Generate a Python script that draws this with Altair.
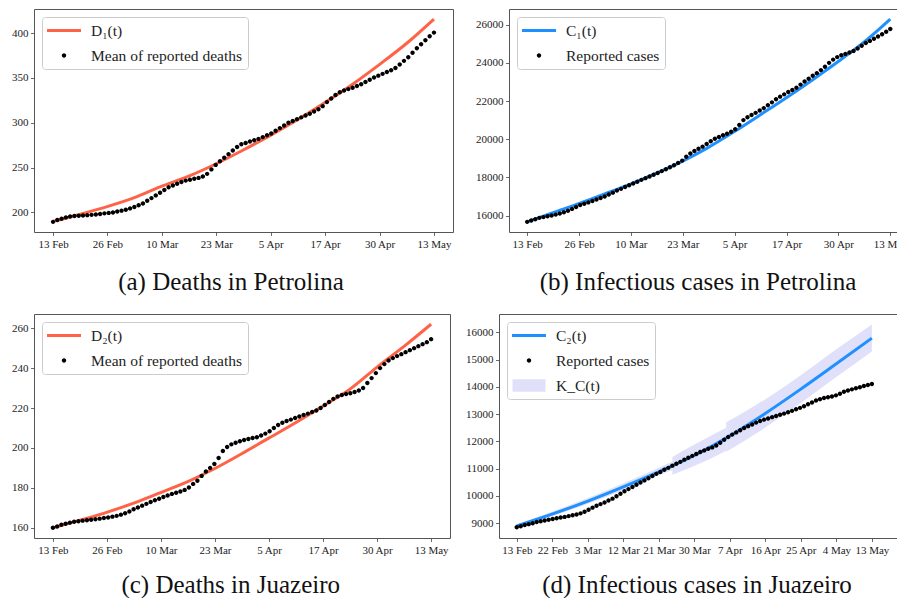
import altair as alt
import pandas as pd

days = list(range(90))

# ---------------- values ----------------
a_dots = [189.5, 191.5, 193.0, 194.5, 195.5, 196.0, 196.3, 196.6, 197.0, 197.3,
          197.7, 198.3, 199.0, 199.5, 200.0, 201.0, 202.0, 203.0, 204.5, 206.0,
          208.0, 210.0, 213.0, 216.0, 219.0, 222.0, 225.0, 228.0, 230.0, 232.0,
          234.0, 235.5, 236.5, 237.5, 238.5, 240.0, 243.0, 248.0, 253.0, 257.0,
          261.0, 265.0, 269.0, 273.0, 276.0, 277.5, 279.0, 280.5, 282.0, 284.0,
          286.0, 288.0, 291.0, 294.0, 297.0, 300.0, 302.0, 304.0, 306.0, 308.0,
          310.0, 312.5, 315.0, 318.5, 323.0, 327.0, 331.0, 334.0, 336.0, 337.5,
          339.0, 341.0, 343.0, 345.5, 348.0, 350.5, 352.5, 354.5, 356.5, 358.5,
          361.0, 365.0, 369.0, 373.0, 378.0, 383.0, 387.5, 392.0, 396.5, 400.5]
a_curve_days = [0, 6, 13, 19, 25, 32, 38, 44, 51, 57, 63, 70, 76, 83, 89]
a_curve = [190, 197.5, 207, 216.5, 228.5, 241, 254, 268.5, 286.5, 303, 321, 343, 364, 390, 415.5]

b_dots = [15670, 15740, 15810, 15880, 15920, 15960, 16000, 16050, 16110, 16170,
          16250, 16350, 16450, 16550, 16620, 16690, 16760, 16840, 16920, 17000,
          17100, 17200, 17310, 17400, 17500, 17590, 17680, 17770, 17870, 17960,
          18050, 18140, 18230, 18330, 18430, 18530, 18640, 18760, 18880, 19080,
          19250, 19380, 19500, 19610, 19750, 19890, 20020, 20120, 20210, 20290,
          20390, 20520, 20740, 21000, 21150, 21270, 21380, 21500, 21630, 21780,
          21930, 22090, 22230, 22350, 22470, 22580, 22700, 22860, 23020, 23170,
          23320, 23460, 23620, 23800, 24000, 24170, 24300, 24400, 24470, 24540,
          24620, 24750, 24900, 25040, 25150, 25260, 25380, 25500, 25630, 25770]
b_curve_days = [0, 6, 13, 19, 25, 32, 38, 44, 51, 57, 64, 70, 76, 83, 89]
b_curve = [15670, 16130, 16650, 17130, 17620, 18250, 18840, 19520, 20430, 21260,
           22240, 23120, 24030, 25160, 26290]

c_dots = [160.0, 160.7, 161.5, 162.0, 162.6, 163.0, 163.3, 163.6, 163.8, 164.0,
          164.3, 164.6, 164.9, 165.2, 165.6, 166.0, 166.6, 167.3, 168.2, 169.3,
          170.2, 171.1, 172.0, 172.9, 173.8, 174.6, 175.4, 176.2, 177.0, 177.6,
          178.2, 179.0, 180.2, 182.0, 183.6, 186.0, 188.2, 190.0, 192.0, 195.0,
          198.5, 200.5, 201.8, 202.6, 203.4, 204.0, 204.5, 205.0, 205.4, 206.2,
          207.2, 208.4, 210.0, 211.5, 212.6, 213.5, 214.2, 215.0, 215.8, 216.5,
          217.2, 218.0, 218.8, 220.0, 221.5, 223.0, 224.6, 225.8, 226.5, 227.0,
          227.4, 228.0, 228.8, 230.0, 232.5, 235.0, 237.5, 240.0, 242.0, 243.8,
          245.0, 246.0, 247.0, 248.0, 249.0, 250.0, 251.0, 252.0, 253.0, 254.5]
c_curve_days = [0, 6, 13, 19, 25, 32, 38, 44, 51, 57, 63, 70, 76, 83, 89]
c_curve = [160, 163.6, 168, 172.4, 177.4, 183.4, 189.6, 196.6, 205.2, 212.5,
           220.3, 229.6, 240, 251.5, 262]

d_dots = [8853, 8890, 8930, 8965, 9000, 9040, 9073, 9100, 9125, 9150,
          9180, 9205, 9230, 9260, 9290, 9320, 9360, 9420, 9490, 9570,
          9640, 9700, 9760, 9830, 9900, 9990, 10080, 10170, 10250, 10330,
          10410, 10490, 10570, 10650, 10730, 10810, 10880, 10960, 11030, 11110,
          11180, 11250, 11330, 11400, 11470, 11540, 11610, 11670, 11730, 11780,
          11850, 11950, 12060, 12160, 12250, 12330, 12410, 12490, 12560, 12620,
          12690, 12750, 12800, 12840, 12890, 12930, 12980, 13020, 13070, 13120,
          13180, 13230, 13290, 13360, 13430, 13500, 13550, 13590, 13620, 13650,
          13690, 13750, 13820, 13870, 13910, 13950, 13985, 14030, 14070, 14107]
d_curve_days = [0, 9, 18, 27, 36, 45, 53, 62, 71, 80, 89]
d_curve = [8900, 9340, 9820, 10350, 10910, 11520, 12170, 13000, 13900, 14840, 15790]

# K_C(t) band, three pieces
band_seg = ["s1"] * 6 + ["s2"] * 3 + ["s3"] * 5
band_days = [0, 9, 18, 27, 36, 39, 39, 45, 52.5, 52.5, 62, 71, 80, 89]
band_lo = [8845, 9260, 9720, 10230, 10780, 10950, 10780, 11130, 11660,
           11620, 12480, 13390, 14350, 15300]
band_hi = [8955, 9430, 9930, 10480, 11060, 11250, 11430, 11920, 12500,
           12700, 13520, 14410, 15370, 16290]

ticks_8 = ["13 Feb", "26 Feb", "10 Mar", "23 Mar", "5 Apr", "17 Apr", "30 Apr", "13 May"]
ticks_11 = ["13 Feb", "22 Feb", "3 Mar", "12 Mar", "21 Mar", "30 Mar", "7 Apr",
            "16 Apr", "25 Apr", "4 May", "13 May"]

# ---------------- styling ----------------
SERIF = "Liberation Serif"
RED = "#ff6347"
BLUE = "#1e90ff"
LAV = "#e0e0fa"
FRAME = "#555555"
LINE_PATH = "M-1,-0.09L1,-0.09L1,0.09L-1,0.09Z"
DOT_PATH = "M0.13,0A0.13,0.13,0,1,1,-0.13,0A0.13,0.13,0,1,1,0.13,0Z"
RECT_PATH = "M-0.97,-0.37L0.97,-0.37L0.97,0.37L-0.97,0.37Z"
SYM = 1156


def x_enc(labels, xmax):
    n = len(labels)
    pos = [i * 89 / (n - 1) for i in range(n)]
    arr = "[" + ",".join("'" + t + "'" for t in labels) + "]"
    expr = arr + "[round(datum.value * " + str(n - 1) + " / 89)]"
    return alt.X("day:Q", scale=alt.Scale(domain=[-4.45, xmax], nice=False, zero=False),
                 axis=alt.Axis(values=pos, labelExpr=expr, title=None, labelPadding=3,
                               labelOverlap=False))


def y_enc(field, ydom, yticks, ext):
    return alt.Y(field, scale=alt.Scale(domain=ydom, nice=False, zero=False),
                 axis=alt.Axis(values=yticks, format="d", title=None,
                               minExtent=ext, maxExtent=ext))


def panel(dots, dot_label, cdays, cvals, line_label, color, ydom, yticks, ext,
          width, height, xt, caption, toff, dx=0, xmax=93.45, band=None):
    X = x_enc(xt, xmax)
    Y = y_enc("v:Q", ydom, yticks, ext)
    dom = [line_label, dot_label]
    cols = [color, "black"]
    shapes = [LINE_PATH, DOT_PATH]
    layers = []
    if band is not None:
        bdf = pd.DataFrame({"day": band_days, "lo": band_lo, "hi": band_hi, "seg": band_seg})
        layers.append(alt.Chart(bdf).mark_area(color=LAV, opacity=1, interpolate="monotone").encode(
            x=X, y=y_enc("lo:Q", ydom, yticks, ext), y2="hi:Q", detail="seg:N"))
        dom.append(band)
        cols.append(LAV)
        shapes.append(RECT_PATH)
    cdf = pd.DataFrame({"day": cdays, "v": cvals})
    layers.append(alt.Chart(cdf).mark_line(color=color, strokeWidth=3, interpolate="monotone")
                  .encode(x=X, y=Y))
    ddf = pd.DataFrame({"day": days, "v": dots, "series": [dot_label] * len(days)})
    leg = alt.Legend(title=None, orient="top-left")
    layers.append(alt.Chart(ddf).mark_point(filled=True, size=SYM, opacity=1).encode(
        x=X, y=Y,
        color=alt.Color("series:N", scale=alt.Scale(domain=dom, range=cols), legend=leg),
        shape=alt.Shape("series:N", scale=alt.Scale(domain=dom, range=shapes), legend=leg)))
    return alt.layer(*layers).properties(
        width=width, height=height,
        title=alt.TitleParams(text=caption, orient="bottom", anchor="middle",
                              frame="bounds", offset=toff, dx=dx))


pa = panel(a_dots, "Mean of reported deaths", a_curve_days, a_curve, "D\u2081(t)", RED,
           [178.2, 426.8], [200, 250, 300, 350, 400], 25, 419, 223, ticks_8,
           "(a) Deaths in Petrolina", 20)
pb = panel(b_dots, "Reported cases", b_curve_days, b_curve, "C\u2081(t)", BLUE,
           [15139, 26821], [16000, 18000, 20000, 22000, 24000, 26000], 34, 400, 223, ticks_8,
           "(b) Infectious cases in Petrolina", 20, dx=6, xmax=93.59)
pc = panel(c_dots, "Mean of reported deaths", c_curve_days, c_curve, "D\u2082(t)", RED,
           [154.9, 267.1], [160, 180, 200, 220, 240, 260], 22, 416, 224, ticks_8,
           "(c) Deaths in Juazeiro", 17)
pdd = panel(d_dots, "Reported cases", d_curve_days, d_curve, "C\u2082(t)", BLUE,
            [8456, 16674], [9000, 10000, 11000, 12000, 13000, 14000, 15000, 16000], 34, 400, 224,
            ticks_11, "(d) Infectious cases in Juazeiro", 17, dx=15, xmax=95.8, band="K_C(t)")

row1 = alt.hconcat(pa, pb, spacing=20).resolve_scale(color="independent", shape="independent")
row2 = alt.hconcat(pc, pdd, spacing=13).resolve_scale(color="independent", shape="independent")

# the right-hand panels run past the page edge, as in the original figure
chart = alt.vconcat(row1, row2, spacing=18).resolve_scale(
    color="independent", shape="independent"
).properties(
    padding={"left": 0, "top": 0, "right": -13.5, "bottom": 0}
).configure_view(
    stroke=FRAME, strokeWidth=1
).configure_axis(
    domain=False, grid=False, tickSize=3.5, tickColor="#444", tickWidth=0.8,
    labelFont=SERIF, labelFontSize=11, labelColor="#222", labelPadding=2.5
).configure_legend(
    orient="top-left", offset=8, padding=5, fillColor="white", strokeColor="#cccccc",
    cornerRadius=3, labelFont=SERIF, labelFontSize=15.5, labelColor="#222",
    symbolSize=SYM, clipHeight=17, rowPadding=8, labelOffset=10, symbolStrokeWidth=0,
    symbolOpacity=1
).configure_title(
    font=SERIF, fontSize=25, fontWeight="normal", color="#111"
)

chart.save("out.html", embed_options={"renderer": "svg", "actions": False})
